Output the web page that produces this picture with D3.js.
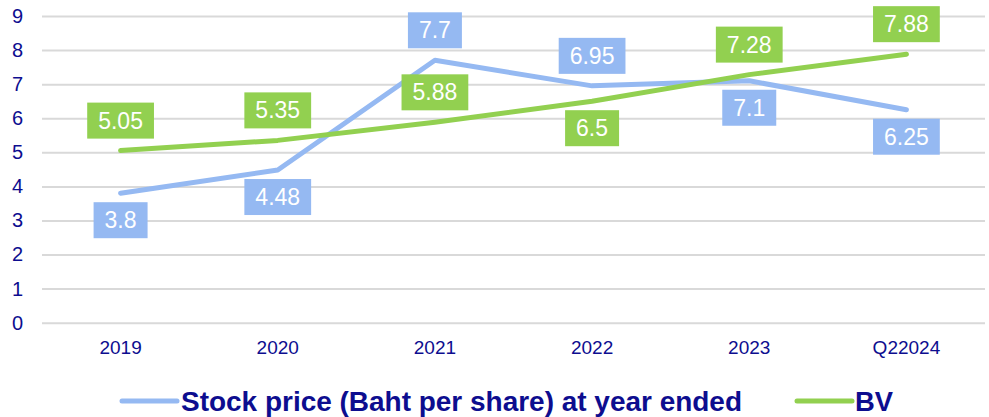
<!DOCTYPE html>
<html><head><meta charset="utf-8">
<script src="https://cdn.jsdelivr.net/npm/d3@7"></script>
<style>
html,body{margin:0;padding:0;background:#fff;}
svg{display:block;font-family:"Liberation Sans",Arial,sans-serif;}
</style></head>
<body><svg id="c" width="989" height="417"></svg>
<script>
const categories = ["2019","2020","2021","2022","2023","Q22024"];
const stockPrice = [3.8, 4.48, 7.7, 6.95, 7.1, 6.25];
const bookValue = [5.05, 5.35, 5.88, 6.5, 7.28, 7.88];
const stockLabelSide = ["below","below","above","above","below","below"];
const bvLabelSide = ["above","above","above","below","above","above"];
const yTicks = [0,1,2,3,4,5,6,7,8,9];
const seriesNames = ["Stock price (Baht per share) at year ended","BV"];

const svg = d3.select("#c");
const axisColor = "#0d0d8f";
const blue = "#95B9F2", green = "#92D050";

const x = d3.scaleBand().domain(categories).range([42,985]);
const y = d3.scaleLinear().domain([0,9]).range([322.7,16]);
const cx = d => x(d) + x.bandwidth()/2;

// gridlines
const yAxis = d3.axisLeft(y).tickValues(yTicks).tickSize(-(985-42)).tickPadding(19).tickFormat(d3.format("d"));
const gy = svg.append("g").attr("transform","translate(42,0)").call(yAxis);
gy.select(".domain").remove();
gy.selectAll(".tick line").attr("stroke","#d9d9d9").attr("stroke-width",2);
gy.selectAll(".tick text").attr("fill",axisColor).attr("font-size",20).attr("font-family","Liberation Sans, Arial, sans-serif");

const xAxis = d3.axisBottom(x).tickSize(0).tickPadding(18);
const gx = svg.append("g").attr("transform","translate(0,322.7)").call(xAxis);
gx.select(".domain").remove();
gx.selectAll(".tick text").attr("fill",axisColor).attr("font-size",19).attr("font-family","Liberation Sans, Arial, sans-serif");

const line = d3.line().x((d,i)=>cx(categories[i])).y(d=>y(d));

function drawSeries(vals, color){
  svg.append("path").datum(vals).attr("d",line).attr("fill","none")
    .attr("stroke",color).attr("stroke-width",5).attr("stroke-linecap","round").attr("stroke-linejoin","round");
}
drawSeries(stockPrice, blue);
drawSeries(bookValue, green);

function drawLabels(vals, sides, color){
  const g = svg.append("g");
  vals.forEach((v,i)=>{
    const px = cx(categories[i]), py = y(v);
    const cy = sides[i]==="above" ? py - 30 : py + 27;
    const t = g.append("text").attr("x",px).attr("y",cy).attr("text-anchor","middle")
      .attr("dominant-baseline","central").attr("font-size",23).attr("fill","#fff").text(String(v));
    const w = t.node().getComputedTextLength();
    g.insert("rect","text").attr("x",px - w/2 - 11).attr("y",cy-18).attr("width",w+22).attr("height",36).attr("fill",color);
  });
}
drawLabels(stockPrice, stockLabelSide, blue);
drawLabels(bookValue, bvLabelSide, green);

// legend
const leg = svg.append("g");
const legItems = [
  {name:seriesNames[0], color:blue, x1:122, x2:177, tx:181, tw:561},
  {name:seriesNames[1], color:green, x1:797, x2:852, tx:855, tw:38}
];
legItems.forEach(it=>{
  leg.append("line").attr("x1",it.x1).attr("x2",it.x2).attr("y1",401).attr("y2",401)
    .attr("stroke",it.color).attr("stroke-width",5).attr("stroke-linecap","round");
  leg.append("text").attr("x",it.tx).attr("y",411).attr("font-size",28).attr("font-weight","bold")
    .attr("fill",axisColor).attr("textLength",it.tw).attr("lengthAdjust","spacingAndGlyphs").text(it.name);
});
</script></body></html>
